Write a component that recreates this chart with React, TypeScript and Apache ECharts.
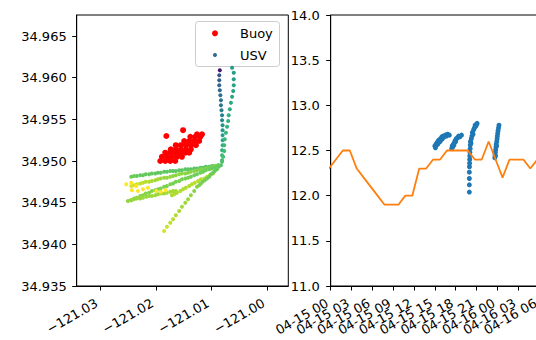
import React, { useEffect, useRef } from 'react';
import * as echarts from 'echarts';

// ---------- data ----------
const lonTicks = [-121.03, -121.02, -121.01, -121.0];
const latTicks = [34.935, 34.94, 34.945, 34.95, 34.955, 34.96, 34.965];

// Buoy positions [lon, lat]
const buoy: [number, number][] = [
  [-121.0192, 34.95], [-121.0183, 34.95], [-121.0174, 34.95], [-121.0165, 34.95],
  [-121.0189, 34.9505], [-121.018, 34.9505], [-121.0171, 34.9505], [-121.0162, 34.9505], [-121.0153, 34.9505],
  [-121.0183, 34.951], [-121.0174, 34.951], [-121.0165, 34.951], [-121.0156, 34.951], [-121.0147, 34.951], [-121.014, 34.951],
  [-121.0173, 34.9514], [-121.0164, 34.9514], [-121.0155, 34.9514], [-121.0146, 34.9514], [-121.0137, 34.9514],
  [-121.0164, 34.9519], [-121.0155, 34.9519], [-121.0146, 34.9519], [-121.0137, 34.9519], [-121.0128, 34.9519],
  [-121.0149, 34.9524], [-121.014, 34.9524], [-121.0131, 34.9524], [-121.0122, 34.9524],
  [-121.0138, 34.9529], [-121.0129, 34.9529], [-121.012, 34.9529],
  [-121.0126, 34.9532], [-121.0117, 34.9532],
  [-121.0181, 34.953], [-121.0151, 34.9537], [-121.0177, 34.9502], [-121.016, 34.9507],
];

// USV track [lon, lat, colour value 0..1]
const usv: [number, number, number][] = [
  [-121.0085, 34.9609, 0.0], [-121.0086, 34.9603, 0.2], [-121.0086, 34.9597, 0.23], [-121.0086, 34.9591, 0.26],
  [-121.0085, 34.9585, 0.28], [-121.0084, 34.9579, 0.3], [-121.0083, 34.9573, 0.32], [-121.0083, 34.9567, 0.34],
  [-121.0082, 34.9561, 0.36], [-121.0081, 34.9555, 0.39], [-121.0081, 34.9549, 0.42], [-121.008, 34.9543, 0.45],
  [-121.008, 34.9537, 0.48], [-121.008, 34.9531, 0.5], [-121.008, 34.9525, 0.53], [-121.008, 34.9519, 0.55],
  [-121.0081, 34.9513, 0.58], [-121.0081, 34.9507, 0.6], [-121.0081, 34.9501, 0.62],
  [-121.0063, 34.9612, 0.5], [-121.006, 34.9606, 0.5], [-121.006, 34.9598, 0.51], [-121.006, 34.9591, 0.52],
  [-121.0061, 34.9584, 0.53], [-121.0063, 34.9577, 0.54], [-121.0065, 34.957, 0.55], [-121.0067, 34.9562, 0.56],
  [-121.0069, 34.9555, 0.57], [-121.007, 34.9548, 0.58], [-121.0072, 34.9541, 0.59], [-121.0074, 34.9534, 0.6],
  [-121.0076, 34.9526, 0.61], [-121.0077, 34.9519, 0.62], [-121.0077, 34.9512, 0.63], [-121.0079, 34.9505, 0.64],
  [-121.0081, 34.9499, 0.65], [-121.0083, 34.9495, 0.66],
  // transect 1
  [-121.0088, 34.9495, 0.66], [-121.0094, 34.9494, 0.66], [-121.0099, 34.9494, 0.66], [-121.0104, 34.9493, 0.66],
  [-121.011, 34.9493, 0.67], [-121.0115, 34.9492, 0.67], [-121.012, 34.9492, 0.67], [-121.0126, 34.9491, 0.67],
  [-121.0131, 34.9491, 0.67], [-121.0137, 34.949, 0.67], [-121.0142, 34.949, 0.68], [-121.0147, 34.949, 0.68],
  [-121.0153, 34.9489, 0.68], [-121.0158, 34.9489, 0.68], [-121.0164, 34.9488, 0.68], [-121.0169, 34.9488, 0.68],
  [-121.0174, 34.9488, 0.69], [-121.018, 34.9487, 0.69], [-121.0185, 34.9487, 0.69], [-121.0191, 34.9486, 0.69],
  [-121.0196, 34.9486, 0.69], [-121.0201, 34.9485, 0.69], [-121.0207, 34.9485, 0.7], [-121.0212, 34.9484, 0.7],
  [-121.0218, 34.9484, 0.7], [-121.0223, 34.9483, 0.7], [-121.0228, 34.9483, 0.7], [-121.0234, 34.9482, 0.7],
  [-121.0239, 34.9482, 0.71], [-121.0244, 34.9481, 0.71],
  // transect 2
  [-121.0088, 34.9495, 0.74], [-121.0094, 34.9494, 0.74], [-121.0099, 34.9493, 0.74], [-121.0104, 34.9492, 0.74],
  [-121.011, 34.9491, 0.75], [-121.0115, 34.949, 0.75], [-121.012, 34.949, 0.75], [-121.0126, 34.9489, 0.75],
  [-121.0131, 34.9488, 0.76], [-121.0137, 34.9487, 0.76], [-121.0142, 34.9486, 0.76], [-121.0147, 34.9485, 0.76],
  [-121.0153, 34.9485, 0.77], [-121.0158, 34.9484, 0.77], [-121.0164, 34.9483, 0.77], [-121.0169, 34.9482, 0.77],
  [-121.0174, 34.9481, 0.78], [-121.018, 34.948, 0.78], [-121.0185, 34.948, 0.79], [-121.0191, 34.9479, 0.79],
  [-121.0196, 34.9478, 0.8], [-121.0201, 34.9477, 0.8], [-121.0207, 34.9476, 0.81], [-121.0212, 34.9475, 0.82],
  [-121.0218, 34.9475, 0.83], [-121.0223, 34.9474, 0.84], [-121.0228, 34.9473, 0.85], [-121.0234, 34.9472, 0.86],
  [-121.0239, 34.9471, 0.87], [-121.0244, 34.947, 0.88],
  // transect 3
  [-121.0088, 34.9494, 0.71], [-121.0094, 34.9492, 0.71], [-121.0099, 34.9491, 0.71], [-121.0104, 34.949, 0.71],
  [-121.011, 34.9489, 0.72], [-121.0115, 34.9487, 0.72], [-121.012, 34.9486, 0.72], [-121.0126, 34.9484, 0.72],
  [-121.0131, 34.9483, 0.72], [-121.0137, 34.9481, 0.72], [-121.0142, 34.948, 0.73], [-121.0147, 34.9479, 0.73],
  [-121.0153, 34.9478, 0.73], [-121.0158, 34.9476, 0.73], [-121.0164, 34.9475, 0.73], [-121.0169, 34.9473, 0.73],
  [-121.0174, 34.9472, 0.74], [-121.018, 34.947, 0.74], [-121.0185, 34.9469, 0.74], [-121.0191, 34.9467, 0.74],
  [-121.0196, 34.9466, 0.74], [-121.0201, 34.9465, 0.74], [-121.0207, 34.9464, 0.75], [-121.0212, 34.9462, 0.75],
  [-121.0218, 34.9461, 0.75], [-121.0223, 34.9459, 0.75], [-121.0228, 34.9458, 0.76], [-121.0234, 34.9456, 0.76],
  [-121.0239, 34.9455, 0.76], [-121.0244, 34.9453, 0.76], [-121.025, 34.9452, 0.77],
  // zig-zag legs
  [-121.0245, 34.9453, 0.78], [-121.0239, 34.9454, 0.78], [-121.0234, 34.9455, 0.78], [-121.0228, 34.9455, 0.78],
  [-121.0223, 34.9456, 0.79], [-121.0217, 34.9457, 0.79], [-121.0212, 34.9458, 0.79], [-121.0207, 34.9458, 0.79],
  [-121.0201, 34.9459, 0.79], [-121.0196, 34.946, 0.79], [-121.019, 34.9461, 0.8], [-121.0185, 34.9461, 0.8],
  [-121.018, 34.9462, 0.8], [-121.0174, 34.9463, 0.8], [-121.0169, 34.9464, 0.8], [-121.0164, 34.9464, 0.8],
  [-121.0164, 34.9462, 0.81], [-121.0171, 34.9459, 0.81],
  [-121.0167, 34.946, 0.82], [-121.0162, 34.9462, 0.82], [-121.0156, 34.9464, 0.82], [-121.0151, 34.9466, 0.82],
  [-121.0146, 34.9468, 0.82], [-121.014, 34.947, 0.82], [-121.0135, 34.9472, 0.83], [-121.013, 34.9474, 0.83],
  [-121.0124, 34.9476, 0.83], [-121.0119, 34.9478, 0.83], [-121.0113, 34.9479, 0.83], [-121.0108, 34.9481, 0.83],
  [-121.0103, 34.9483, 0.84], [-121.0097, 34.9485, 0.84],
  // yellow ends
  [-121.0253, 34.9472, 0.95], [-121.0244, 34.9474, 0.95], [-121.0235, 34.947, 0.96], [-121.0243, 34.9465, 0.96],
  [-121.0232, 34.9464, 0.97], [-121.0223, 34.9466, 0.97], [-121.0214, 34.9468, 0.97], [-121.0199, 34.9464, 0.98],
  [-121.0191, 34.9463, 0.98], [-121.0182, 34.9465, 0.98],
  // south-west leg
  [-121.0087, 34.9493, 0.7], [-121.009, 34.949, 0.7], [-121.0094, 34.9488, 0.7], [-121.0097, 34.9486, 0.71],
  [-121.0101, 34.9484, 0.71], [-121.0104, 34.9481, 0.72], [-121.0108, 34.9479, 0.72], [-121.0112, 34.9477, 0.73],
  [-121.0116, 34.9475, 0.73], [-121.0119, 34.9473, 0.74], [-121.0122, 34.9471, 0.74], [-121.0126, 34.9469, 0.75],
  [-121.0131, 34.9464, 0.76], [-121.0137, 34.9459, 0.77],
  [-121.0142, 34.9454, 0.78], [-121.0147, 34.945, 0.79], [-121.0153, 34.9445, 0.8], [-121.0158, 34.944, 0.81],
  [-121.0164, 34.9435, 0.82], [-121.0169, 34.943, 0.83], [-121.0174, 34.9426, 0.84], [-121.018, 34.9421, 0.86],
  [-121.0185, 34.9416, 0.88],
];

// Hourly reference series (orange line)
const refTimes = [
  '04-14 23:45', '04-15 00:45', '04-15 01:45', '04-15 02:45', '04-15 03:45', '04-15 04:45', '04-15 05:45',
  '04-15 06:45', '04-15 07:45', '04-15 08:45', '04-15 09:45', '04-15 10:45', '04-15 11:45', '04-15 12:45',
  '04-15 13:45', '04-15 14:45', '04-15 15:45', '04-15 16:45', '04-15 17:45', '04-15 18:45', '04-15 19:45',
  '04-15 20:45', '04-15 21:45', '04-15 22:45', '04-15 23:45', '04-16 00:45', '04-16 01:45', '04-16 02:45',
  '04-16 03:45', '04-16 04:45', '04-16 05:45', '04-16 06:45', '04-16 07:45',
];
const refValues = [
  12.3, 12.4, 12.5, 12.5, 12.3, 12.2, 12.1, 12.0, 11.9, 11.9, 11.9, 12.0, 12.0, 12.3, 12.3, 12.4, 12.4,
  12.5, 12.5, 12.5, 12.5, 12.4, 12.4, 12.6, 12.4, 12.2, 12.4, 12.4, 12.4, 12.3, 12.4, 12.4, 12.4,
];

// USV measurements (blue dots)
const usvObs: [string, number][] = [
  ['04-15 15:00', 12.55], ['04-15 15:05', 12.53], ['04-15 15:10', 12.57], ['04-15 15:15', 12.56], ['04-15 15:20', 12.59],
  ['04-15 15:25', 12.57], ['04-15 15:30', 12.61], ['04-15 15:35', 12.59], ['04-15 15:40', 12.62], ['04-15 15:45', 12.6],
  ['04-15 15:50', 12.63], ['04-15 15:55', 12.62], ['04-15 16:00', 12.65], ['04-15 16:05', 12.63], ['04-15 16:10', 12.66],
  ['04-15 16:20', 12.65], ['04-15 16:30', 12.67], ['04-15 16:40', 12.66], ['04-15 16:50', 12.68], ['04-15 17:05', 12.67],
  ['04-15 17:25', 12.52], ['04-15 17:30', 12.55], ['04-15 17:35', 12.54], ['04-15 17:40', 12.57], ['04-15 17:45', 12.56],
  ['04-15 17:50', 12.59], ['04-15 17:55', 12.61], ['04-15 18:00', 12.6], ['04-15 18:05', 12.63], ['04-15 18:15', 12.64],
  ['04-15 18:25', 12.66], ['04-15 18:35', 12.65], ['04-15 18:50', 12.67],
  ['04-15 19:58', 12.04], ['04-15 19:58', 12.12], ['04-15 19:58', 12.19], ['04-15 19:58', 12.26], ['04-15 19:59', 12.32],
  ['04-15 20:00', 12.36], ['04-15 20:01', 12.4], ['04-15 20:02', 12.44], ['04-15 20:03', 12.48], ['04-15 20:05', 12.52],
  ['04-15 20:06', 12.56], ['04-15 20:08', 12.6], ['04-15 20:12', 12.58], ['04-15 20:15', 12.63], ['04-15 20:20', 12.66],
  ['04-15 20:24', 12.7], ['04-15 20:30', 12.68], ['04-15 20:35', 12.73], ['04-15 20:42', 12.75], ['04-15 20:48', 12.78],
  ['04-15 20:55', 12.77], ['04-15 21:00', 12.79], ['04-15 21:05', 12.8],
  ['04-15 23:38', 12.42], ['04-15 23:40', 12.45], ['04-15 23:43', 12.48], ['04-15 23:44', 12.44], ['04-15 23:46', 12.51],
  ['04-15 23:48', 12.54], ['04-15 23:50', 12.57], ['04-15 23:53', 12.55], ['04-15 23:55', 12.6], ['04-15 23:58', 12.63],
  ['04-16 00:00', 12.66], ['04-16 00:03', 12.69], ['04-16 00:06', 12.72], ['04-16 00:10', 12.75], ['04-16 00:14', 12.78],
];

const tempTicks = [11.0, 11.5, 12.0, 12.5, 13.0, 13.5, 14.0];
const timeTickLabels = [
  '04-15 00', '04-15 03', '04-15 06', '04-15 09', '04-15 12', '04-15 15',
  '04-15 18', '04-15 21', '04-16 00', '04-16 03', '04-16 06',
];

// ---------- helpers ----------
const YEAR = 2021;
const HOUR = 3600 * 1000;
const parseT = (s: string) => {
  const [md, hm] = s.split(' ');
  const [mo, d] = md.split('-').map(Number);
  const [h, m] = (hm.includes(':') ? hm : hm + ':00').split(':').map(Number);
  return Date.UTC(YEAR, mo - 1, d, h, m);
};
const pad = (n: number) => (n < 10 ? '0' + n : '' + n);
const fmtTime = (v: number) => {
  const d = new Date(v);
  return pad(d.getUTCMonth() + 1) + '-' + pad(d.getUTCDate()) + ' ' + pad(d.getUTCHours());
};
const T0 = parseT(timeTickLabels[0]);
const timeTicks = timeTickLabels.map(parseT);
// two label layers so that the crowded, overlapping labels are all drawn (as in the reference)
const timeTicksEven = timeTicks.filter((_, i) => i % 2 === 0);
const timeTicksOdd = timeTicks.filter((_, i) => i % 2 === 1);

const viridis = ['#440154', '#482878', '#3e4989', '#31688e', '#26828e', '#1f9e89', '#35b779', '#6ece58', '#b5de2b', '#fde725'];
const FONT = 'DejaVu Sans';

export default function App() {
  const ref = useRef<HTMLDivElement>(null);
  useEffect(() => {
    if (!ref.current) return;
    const chart = echarts.init(ref.current, undefined, { renderer: 'svg' });
    const labelBase = { color: '#000', fontSize: 13, fontFamily: FONT };
    const axisLine = { show: true, onZero: false, lineStyle: { color: '#000', width: 1 } };
    const tick = { show: true, length: 4.5, lineStyle: { color: '#000', width: 1 } };
    const timeLabel = {
      ...labelBase, rotate: 30, margin: 14, padding: [0, 4, 0, 0],
      formatter: (v: number) => fmtTime(v), showMinLabel: true, showMaxLabel: true, hideOverlap: false,
    };
    chart.setOption({
      animation: false,
      backgroundColor: '#fff',
      textStyle: { fontFamily: FONT },
      grid: [
        { left: 76.7, top: 15, width: 211.6, height: 271, show: true, borderColor: '#000', borderWidth: 1, containLabel: false, outerBoundsMode: 'none' },
        { left: 330.7, top: 15, width: 222.2, height: 271, show: true, borderColor: '#000', borderWidth: 1, containLabel: false, outerBoundsMode: 'none' },
      ],
      xAxis: [
        {
          gridIndex: 0, type: 'value', min: -121.0342, max: -120.9962, position: 'bottom',
          axisLine, axisTick: { ...tick, customValues: lonTicks },
          splitLine: { show: false },
          axisLabel: {
            ...labelBase, customValues: lonTicks, rotate: 30, margin: 14, padding: [0, 4, 0, 0],
            formatter: (v: number) => (v < 0 ? '\u2212' : '') + Math.abs(v).toFixed(2),
          },
        },
        {
          gridIndex: 1, type: 'value', min: T0, max: T0 + 32 * HOUR, position: 'bottom',
          axisLine, axisTick: { ...tick, customValues: timeTicks }, splitLine: { show: false },
          axisLabel: { ...timeLabel, customValues: timeTicksEven },
        },
        {
          gridIndex: 1, type: 'value', min: T0, max: T0 + 32 * HOUR, position: 'bottom', offset: 0,
          axisLine: { show: false }, axisTick: { show: false }, splitLine: { show: false },
          axisLabel: { ...timeLabel, customValues: timeTicksOdd },
        },
      ],
      yAxis: [
        {
          gridIndex: 0, type: 'value', min: 34.935, max: 34.96752,
          axisLine, axisTick: { ...tick, customValues: latTicks }, splitLine: { show: false },
          axisLabel: { ...labelBase, customValues: latTicks, margin: 10, formatter: (v: number) => v.toFixed(3) },
        },
        {
          gridIndex: 1, type: 'value', min: 11, max: 14, interval: 0.5,
          axisLine, axisTick: { ...tick, customValues: tempTicks }, splitLine: { show: false },
          axisLabel: { ...labelBase, customValues: tempTicks, margin: 11, formatter: (v: number) => v.toFixed(1) },
        },
      ],
      visualMap: {
        type: 'continuous', show: false, seriesIndex: 1, dimension: 2, min: -0.06, max: 0.94,
        inRange: { color: viridis },
      },
      series: [
        {
          name: 'Buoy', type: 'scatter', xAxisIndex: 0, yAxisIndex: 0, data: buoy,
          symbolSize: 6, itemStyle: { color: '#ff0000', opacity: 1 }, z: 3,
        },
        {
          name: 'USV', type: 'scatter', xAxisIndex: 0, yAxisIndex: 0, data: usv,
          symbolSize: 4, itemStyle: { color: '#2f6b8e', opacity: 1 }, z: 2,
        },
        {
          name: 'usvTemp', type: 'scatter', xAxisIndex: 1, yAxisIndex: 1,
          data: usvObs.map(([t, v]) => [parseT(t), v]),
          symbolSize: 5, itemStyle: { color: '#1f77b4', opacity: 1 }, z: 2,
        },
        {
          name: 'ref', type: 'line', xAxisIndex: 1, yAxisIndex: 1,
          data: refTimes.map((t, i) => [parseT(t), refValues[i]]),
          showSymbol: false, symbol: 'none', clip: true,
          lineStyle: { color: '#ff7f0e', width: 1.8 }, z: 3,
        },
      ],
      graphic: [
        {
          type: 'group', z: 100, children: [
            { type: 'rect', shape: { x: 195.5, y: 21.5, width: 84, height: 45, r: 3 }, style: { fill: 'rgba(255,255,255,0.8)', stroke: '#cccccc', lineWidth: 1 } },
            { type: 'circle', shape: { cx: 215, cy: 33.3, r: 3 }, style: { fill: '#ff0000' } },
            { type: 'circle', shape: { cx: 215, cy: 55, r: 2 }, style: { fill: '#2f6b8e' } },
            { type: 'text', x: 240, y: 33.3, style: { text: 'Buoy', fill: '#000', font: '13px "DejaVu Sans"', verticalAlign: 'middle', align: 'left' } },
            { type: 'text', x: 240, y: 55, style: { text: 'USV', fill: '#000', font: '13px "DejaVu Sans"', verticalAlign: 'middle', align: 'left' } },
          ],
        },
      ],
    });
    return () => chart.dispose();
  }, []);
  return (
    <div style={{ position: 'fixed', left: 0, top: 0, width: 536, height: 340, overflow: 'hidden', background: '#fff' }}>
      <div ref={ref} style={{ width: 580, height: 340 }} />
    </div>
  );
}
